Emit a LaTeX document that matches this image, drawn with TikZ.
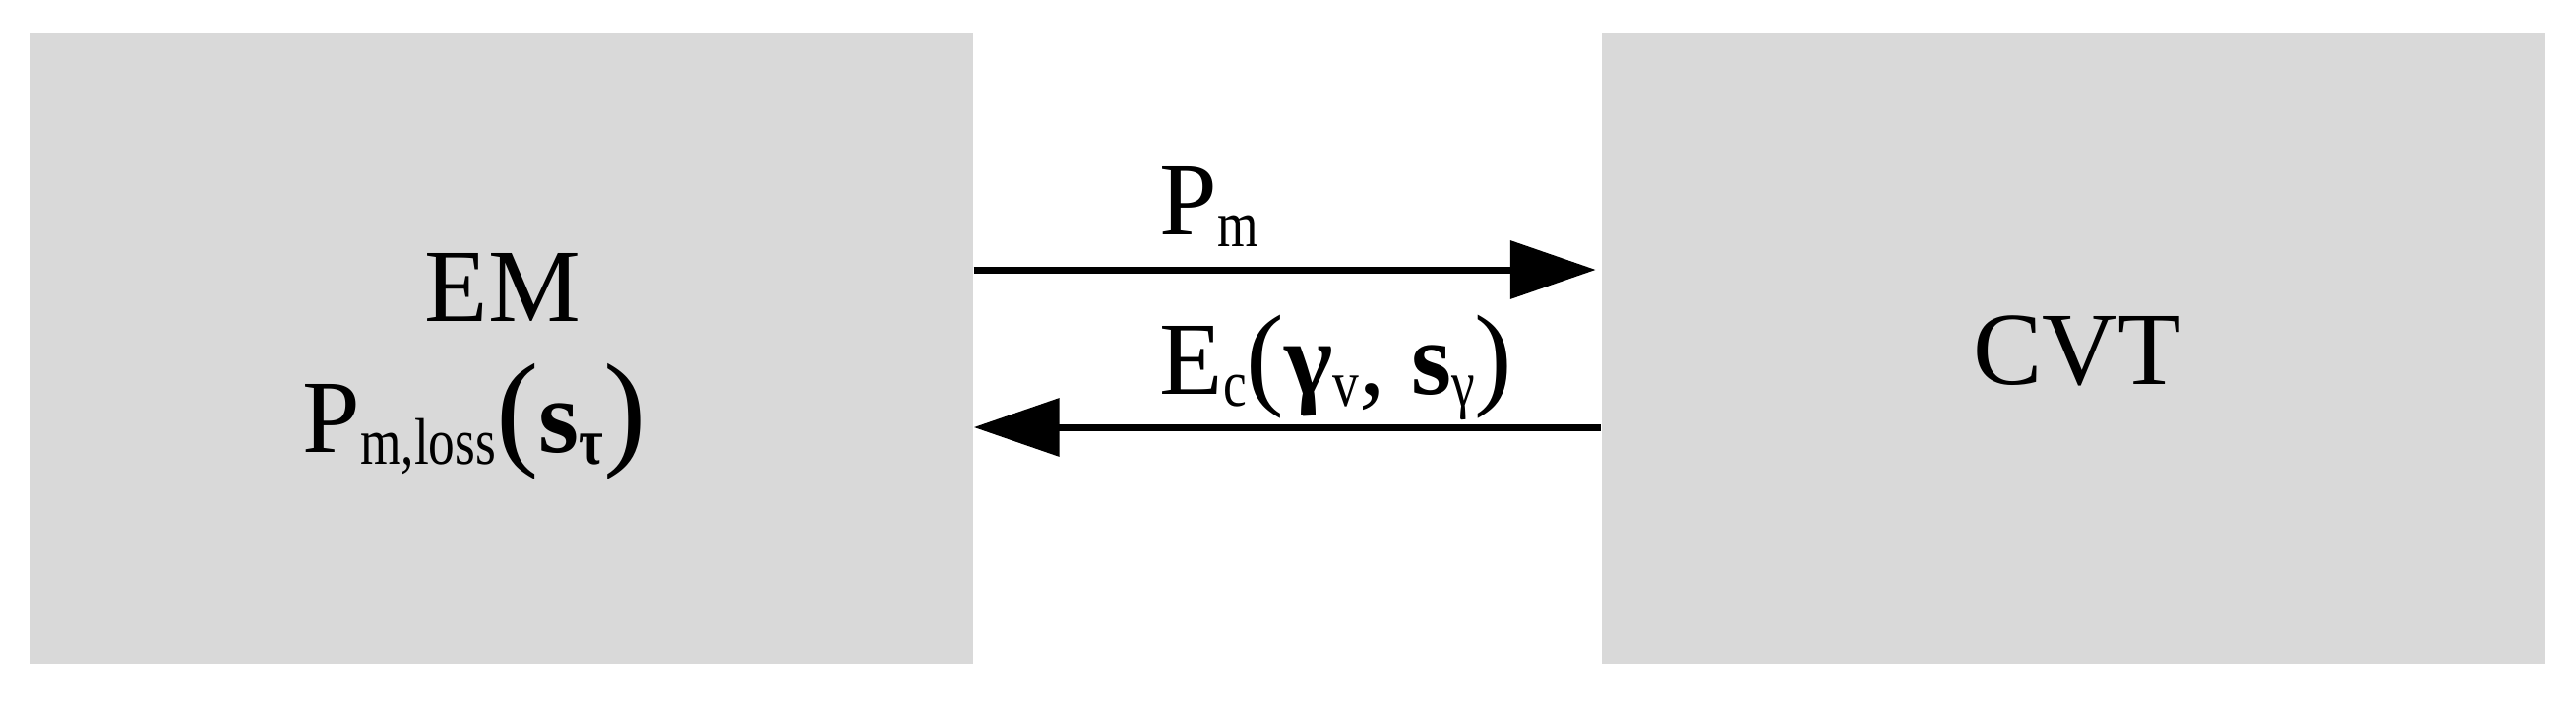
\documentclass[tikz,border=0pt]{standalone}
\usepackage{fontspec}
\setmainfont{Liberation Serif}
\usepackage{graphicx}
\usetikzlibrary{arrows.meta}
\definecolor{blockgray}{RGB}{217,217,217}
\newcommand{\lowsub}[1]{\raisebox{-0.12em}{\fontsize{19pt}{22pt}\selectfont\scalebox{0.8}[1]{#1}}}
\newcommand{\bigpar}[2][37pt]{{\fontsize{#1}{#1}\selectfont #2}}
\begin{document}
\begin{tikzpicture}[>={Triangle[length=0.87cm,width=0.58cm]},
  block/.style={fill=blockgray,minimum width=9.59cm,minimum height=6.4cm,inner sep=0pt},
  txt/.style={font=\fontsize{30pt}{36pt}\selectfont,inner sep=0pt,anchor=base},
  flow/.style={->,line width=0.07cm}]
\useasboundingbox[fill=white](0,0) rectangle (26.18,7.12);
\node[block](em) at (5.095,3.58){};
\node[block](cvt) at (21.07,3.58){};
\node[txt](emname) at (5.11,3.86){EM};
\node[txt](emloss) at (4.82,2.53){P\lowsub{m,loss}\bigpar{(}\textbf{s}\lowsub{\textbf{τ}}\bigpar{)}};
\node[txt](cvtname) at (21.11,3.22){CVT};
\draw[flow]([yshift=0.8cm]em.east)--([yshift=0.8cm,xshift=-0.05cm]cvt.west);
\draw[flow]([yshift=-0.8cm]cvt.west)--([yshift=-0.8cm]em.east);
\node[txt,anchor=base west](pm) at (11.78,4.74){P\lowsub{m}};
\node[txt,anchor=base west](ec) at (11.78,3.12){E\lowsub{c}\bigpar[33pt]{(}\textbf{γ}\lowsub{v}, \textbf{s}\lowsub{γ}\bigpar[33pt]{)}};
\end{tikzpicture}
\end{document}
